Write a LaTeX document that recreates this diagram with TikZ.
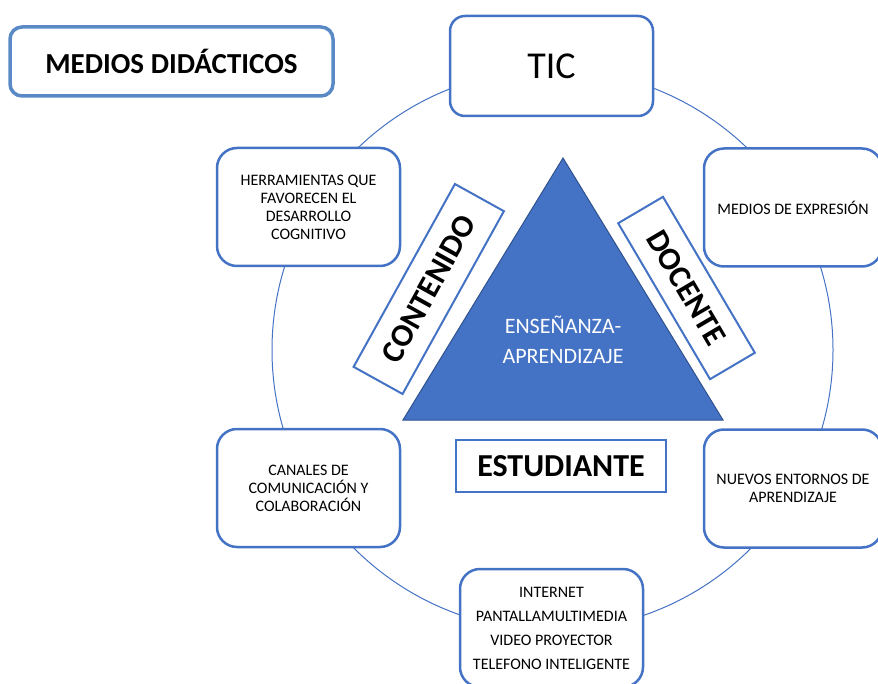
\documentclass[tikz,border=0pt]{standalone}
\usepackage{fontspec}
\setmainfont{Carlito}
\usetikzlibrary{positioning}
\definecolor{azul}{HTML}{4472C4}
\definecolor{azulosc}{HTML}{2F528F}
\definecolor{azultit}{HTML}{5A8AC6}
\tikzstyle{medio}=[draw=azul,line width=2.5pt,rounded corners=20pt,fill=white,align=center,font=\fontsize{16}{18}\selectfont,minimum width=183pt,minimum height=118pt]
\tikzstyle{lado}=[draw=azul,line width=2pt,fill=white,inner sep=0pt,font=\fontsize{32}{36}\selectfont\bfseries]

\begin{document}
\begin{tikzpicture}[x=1pt,y=-1pt]
        \clip (0,0) rectangle (878,684);
        \node [circle,draw=azul,line width=1pt,minimum size=561pt,inner sep=0pt] (ring) at (552.5,350) {};

        \node [draw=azultit,line width=3.5pt,rounded corners=12pt,minimum width=323pt,minimum height=69pt,font=\fontsize{29}{32}\selectfont\bfseries] (titulo) at (171.5,61.5) {MEDIOS DIDÁCTICOS};

        \node [medio,minimum width=203pt,minimum height=100pt,rounded corners=15pt,font=\fontsize{38}{40}\selectfont] (tic) at (551.5,66) {TIC};
        \node [medio] (herr) at (308.5,207) {HERRAMIENTAS QUE\\FAVORECEN EL\\DESARROLLO\\COGNITIVO};
        \node [medio,minimum width=178pt] (expr) at (793,207.5) {MEDIOS DE EXPRESIÓN};
        \node [medio] (canal) at (308.5,488) {CANALES DE\\COMUNICACIÓN Y\\COLABORACIÓN};
        \node [medio,minimum width=178pt] (nuevo) at (793,488.5) {NUEVOS ENTORNOS DE\\APRENDIZAJE};
        \node [medio,font=\fontsize{16}{24}\selectfont] (tecno) at (551.5,628) {INTERNET\\PANTALLAMULTIMEDIA\\VIDEO PROYECTOR\\TELEFONO INTELIGENTE};

        \coordinate (cima) at (563,158);
        \coordinate (izq) at (403,420);
        \coordinate (der) at (723,420);
        \draw [fill=azul,draw=azulosc,line width=1pt] (cima) -- (izq) -- (der) -- cycle;
        \node [text=white,align=center,font=\fontsize{22}{30}\selectfont] (ensenanza) at (563,340) {ENSEÑANZA-\\APRENDIZAJE};

        \node [lado,rotate=61,minimum width=209pt,minimum height=56pt] (contenido) at (428.75,289) {CONTENIDO};
        \node [lado,rotate=-59.5,minimum width=181pt,minimum height=52pt] (docente) at (686.5,288) {DOCENTE};
        \node [lado,minimum width=210pt,minimum height=52pt] (estudiante) at (561,466) {ESTUDIANTE};
      \end{tikzpicture}
\end{document}
